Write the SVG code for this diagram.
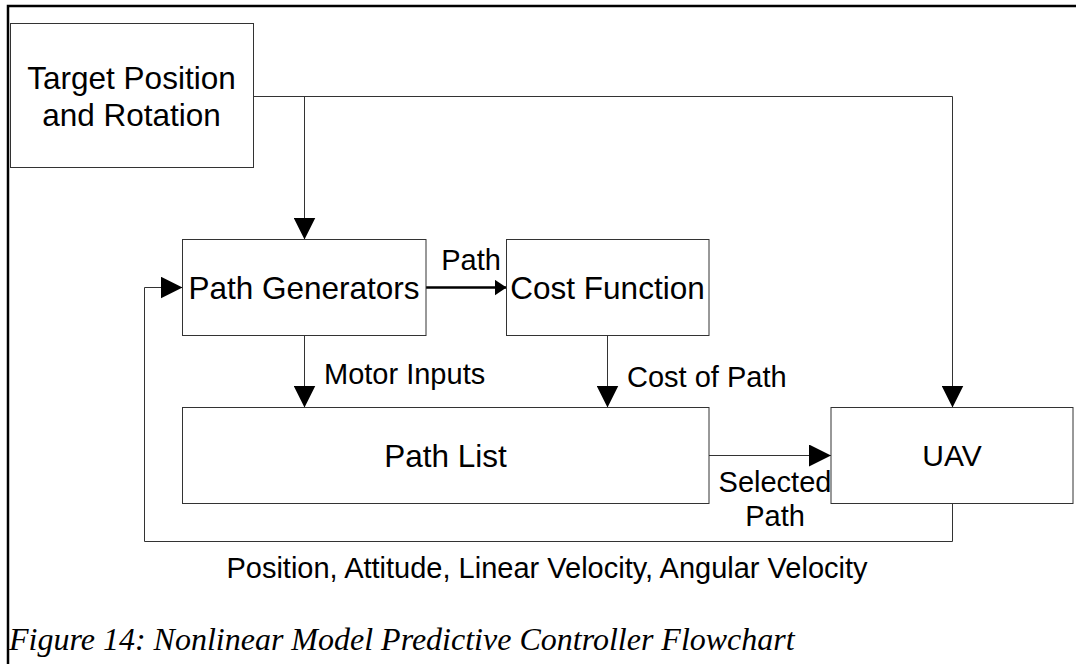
<svg xmlns="http://www.w3.org/2000/svg" width="1076" height="664" viewBox="0 0 1076 664">
  <style>
    .box { fill: #fff; stroke: #333; stroke-width: 1; }
    .node { font-family: "Liberation Sans", Arial, sans-serif; font-size: 31.5px; fill: #000; text-anchor: middle; }
    .lbl { font-family: "Liberation Sans", Arial, sans-serif; font-size: 29px; fill: #000; }
    .conn { fill: none; stroke: #333; stroke-width: 1; }
    .frame { fill: none; stroke: #000; stroke-width: 2.5; }
    .cap { font-family: "Liberation Serif", "Times New Roman", serif; font-style: italic; font-size: 32px; fill: #000; }
  </style>
  <defs>
    <marker id="arrow" markerUnits="userSpaceOnUse" markerWidth="22" markerHeight="22" refX="22" refY="11" orient="auto" viewBox="0 0 22 22">
      <path d="M0,0 L22,11 L0,22 Z" fill="#000"/>
    </marker>
    <marker id="arrowSmall" markerUnits="userSpaceOnUse" markerWidth="12" markerHeight="16" refX="12" refY="8" orient="auto" viewBox="0 0 12 16">
      <path d="M0,0 L12,8 L0,16 Z" fill="#000"/>
    </marker>
  </defs>

  <rect width="1076" height="664" fill="#fff"/>
  <g id="frame">
    <path class="frame" d="M8,4.8 V664 M6.8,6 H1076"/>
  </g>

  <g id="connectors">
    <path class="conn" d="M253.5,96.5 H952.5 V407.5" marker-end="url(#arrow)"/>
    <path class="conn" d="M304.5,96.5 V239.5" marker-end="url(#arrow)"/>
    <path class="conn" d="M426,287.5 H506.5" style="stroke:#000;stroke-width:2.5" marker-end="url(#arrowSmall)"/>
    <path class="conn" d="M304.5,335.5 V407.5" marker-end="url(#arrow)"/>
    <path class="conn" d="M607.5,335.5 V407.5" marker-end="url(#arrow)"/>
    <path class="conn" d="M709,455.5 H831" marker-end="url(#arrow)"/>
    <path class="conn" d="M952.5,503.5 V541.5 H144.5 V287.5 H182.5" marker-end="url(#arrow)"/>
    <text class="lbl" x="471" y="270" text-anchor="middle">Path</text>
    <text class="lbl" x="324" y="383.5">Motor Inputs</text>
    <text class="lbl" x="627" y="386.5">Cost of Path</text>
    <text class="lbl" x="775" y="492" text-anchor="middle">Selected</text>
    <text class="lbl" x="775" y="525.5" text-anchor="middle">Path</text>
    <text class="lbl" x="547" y="578" text-anchor="middle">Position, Attitude, Linear Velocity, Angular Velocity</text>
  </g>

  <g id="target">
    <rect class="box" x="10.5" y="23.5" width="243" height="144"/>
    <text class="node" x="131.5" y="89">Target Position</text>
    <text class="node" x="131.5" y="126">and Rotation</text>
  </g>
  <g id="path-generators">
    <rect class="box" x="182.5" y="239.5" width="243.5" height="96"/>
    <text class="node" x="304" y="298.5">Path Generators</text>
  </g>
  <g id="cost-function">
    <rect class="box" x="506.5" y="239.5" width="202.5" height="96"/>
    <text class="node" x="607.5" y="299">Cost Function</text>
  </g>
  <g id="path-list">
    <rect class="box" x="182.5" y="407.5" width="526.5" height="96"/>
    <text class="node" x="445.5" y="466.5">Path List</text>
  </g>
  <g id="uav">
    <rect class="box" x="831" y="407.5" width="242" height="96"/>
    <text class="node" x="952" y="466" style="font-size:30px">UAV</text>
  </g>

  <text class="cap" x="9" y="650">Figure 14: Nonlinear Model Predictive Controller Flowchart</text>
</svg>
